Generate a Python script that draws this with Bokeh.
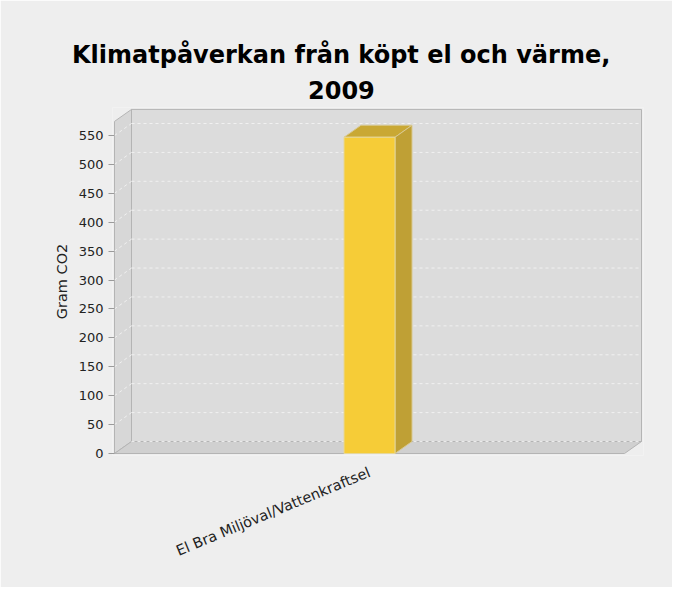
import math
from bokeh.plotting import figure
from bokeh.models import Range1d, FixedTicker, Title
from bokeh.embed import file_html
from bokeh.resources import INLINE

# ---- data ----
title_line1 = "Klimatpåverkan från köpt el och värme,"
title_line2 = "2009"
categories = ["El Bra Miljöval/Vattenkraftsel"]
values = [547]
y_ticks = [0, 50, 100, 150, 200, 250, 300, 350, 400, 450, 500, 550]
y_label = "Gram CO2"

# ---- geometry (pixels) ----
W, H = 672, 587
FRONT_LEFT, BACK_TOP_PX = 114.0, 109.0
FRONT_W_PX = 510.0           # width of the front face of the plot box
PX_PER_UNIT = 318.0 / 550.0  # vertical scale
DX_PX, DY_PX = 17.0, 12.0    # 3D depth offset
PAD = 2.0                    # small frame margin so outlines are not clipped

frame_w = FRONT_W_PX + DX_PX + 2 * PAD
frame_h = 332.0 + DY_PX + 2 * PAD

x0_range = -PAD / FRONT_W_PX
x1_range = x0_range + frame_w / FRONT_W_PX
y0_range = -PAD / PX_PER_UNIT
y1_range = y0_range + frame_h / PX_PER_UNIT

dxu = DX_PX / FRONT_W_PX
dyu = DY_PX / PX_PER_UNIT
front_top = max(values) * 1.05
back_top = front_top + dyu

left_border = FRONT_LEFT - PAD
top_border = BACK_TOP_PX - PAD
p = figure(width=W, height=H,
           x_range=Range1d(x0_range, x1_range),
           y_range=Range1d(y0_range, y1_range),
           output_backend="svg", toolbar_location=None,
           min_border_left=int(left_border),
           min_border_right=int(W - left_border - frame_w),
           min_border_top=int(top_border),
           min_border_bottom=int(H - top_border - frame_h))

p.background_fill_color = "#eeeeee"
p.border_fill_color = "#eeeeee"
p.outline_line_color = None
p.xgrid.visible = False
p.ygrid.visible = False

FONT = "DejaVu Sans"
TITLE_CENTER = 340.0

# titles (added closest-first); left aligned with offsets to centre them on the page
t2 = Title(text=title_line2, align="left", offset=TITLE_CENTER - 32.5 - left_border,
           text_font=FONT, text_font_size="24px", text_font_style="bold",
           text_color="#000000", standoff=17)
t1 = Title(text=title_line1, align="left", offset=TITLE_CENTER - 268.5 - left_border,
           text_font=FONT, text_font_size="24px", text_font_style="bold",
           text_color="#000000", standoff=4)
p.add_layout(t2, "above")
p.add_layout(t1, "above")

edge = "#b4b4b4"
# back wall
p.quad(left=[dxu], right=[1 + dxu], bottom=[dyu], top=[back_top],
       fill_color="#dcdcdc", line_color=edge, line_width=1)
# left wall
p.patches(xs=[[0, dxu, dxu, 0]], ys=[[0, dyu, back_top, front_top]],
          fill_color="#d7d7d7", line_color=edge, line_width=1)
# floor
p.patches(xs=[[0, 1, 1 + dxu, dxu]], ys=[[0, 0, dyu, dyu]],
          fill_color="#d0d0d0", line_color=edge, line_width=1)

# gridlines on back wall and left wall
p.multi_line(xs=[[dxu, 1 + dxu] for v in y_ticks],
             ys=[[v + dyu, v + dyu] for v in y_ticks],
             line_color="#f4f4f4", line_width=1, line_dash="3 3", line_alpha=0.85)
p.multi_line(xs=[[0, dxu] for v in y_ticks[1:]],
             ys=[[v, v + dyu] for v in y_ticks[1:]],
             line_color="#f4f4f4", line_width=1, line_dash="3 3", line_alpha=0.85)

# bars (3D)
n = len(categories)
bar_w = 0.1
xc = [(i + 0.5) / n for i in range(n)]
xl = [c - bar_w / 2 for c in xc]
xr = [c + bar_w / 2 for c in xc]
p.patches(xs=[[l, r, r + dxu, l + dxu] for l, r in zip(xl, xr)],
          ys=[[v, v, v + dyu, v + dyu] for v in values],
          fill_color="#c9a834", line_color="#d8c890", line_width=1)
p.patches(xs=[[r, r + dxu, r + dxu, r] for r in xr],
          ys=[[0, dyu, v + dyu, v] for v in values],
          fill_color="#bfa035", line_color="#d8c890", line_width=1)
p.quad(left=xl, right=xr, bottom=[0] * n, top=values,
       fill_color="#f6cc37", line_color="#e6d79a", line_width=1)

# y axis
ya = p.yaxis[0]
ya.ticker = FixedTicker(ticks=y_ticks)
ya.axis_line_color = None
ya.major_tick_out = 4
ya.major_tick_in = 2
ya.major_tick_line_color = "#9a9a9a"
ya.minor_tick_line_color = None
ya.major_label_text_font = FONT
ya.major_label_text_font_size = "13px"
ya.major_label_text_color = "#222222"
ya.major_label_standoff = 5
ya.axis_label = y_label
ya.axis_label_text_font = FONT
ya.axis_label_text_font_size = "14.5px"
ya.axis_label_text_font_style = "normal"
ya.axis_label_text_color = "#222222"
ya.axis_label_standoff = 6

# x axis (category)
xa = p.xaxis[0]
xa.ticker = FixedTicker(ticks=xc)
xa.major_label_overrides = {c: name for c, name in zip(xc, categories)}
xa.axis_line_color = None
xa.major_tick_line_color = None
xa.minor_tick_line_color = None
xa.major_tick_out = 0
xa.major_tick_in = 0
xa.major_label_orientation = math.pi / 8
xa.major_label_text_font = FONT
xa.major_label_text_font_size = "14.5px"
xa.major_label_text_color = "#222222"
xa.major_label_standoff = 16

open("out.html", "w").write(file_html(p, INLINE))
